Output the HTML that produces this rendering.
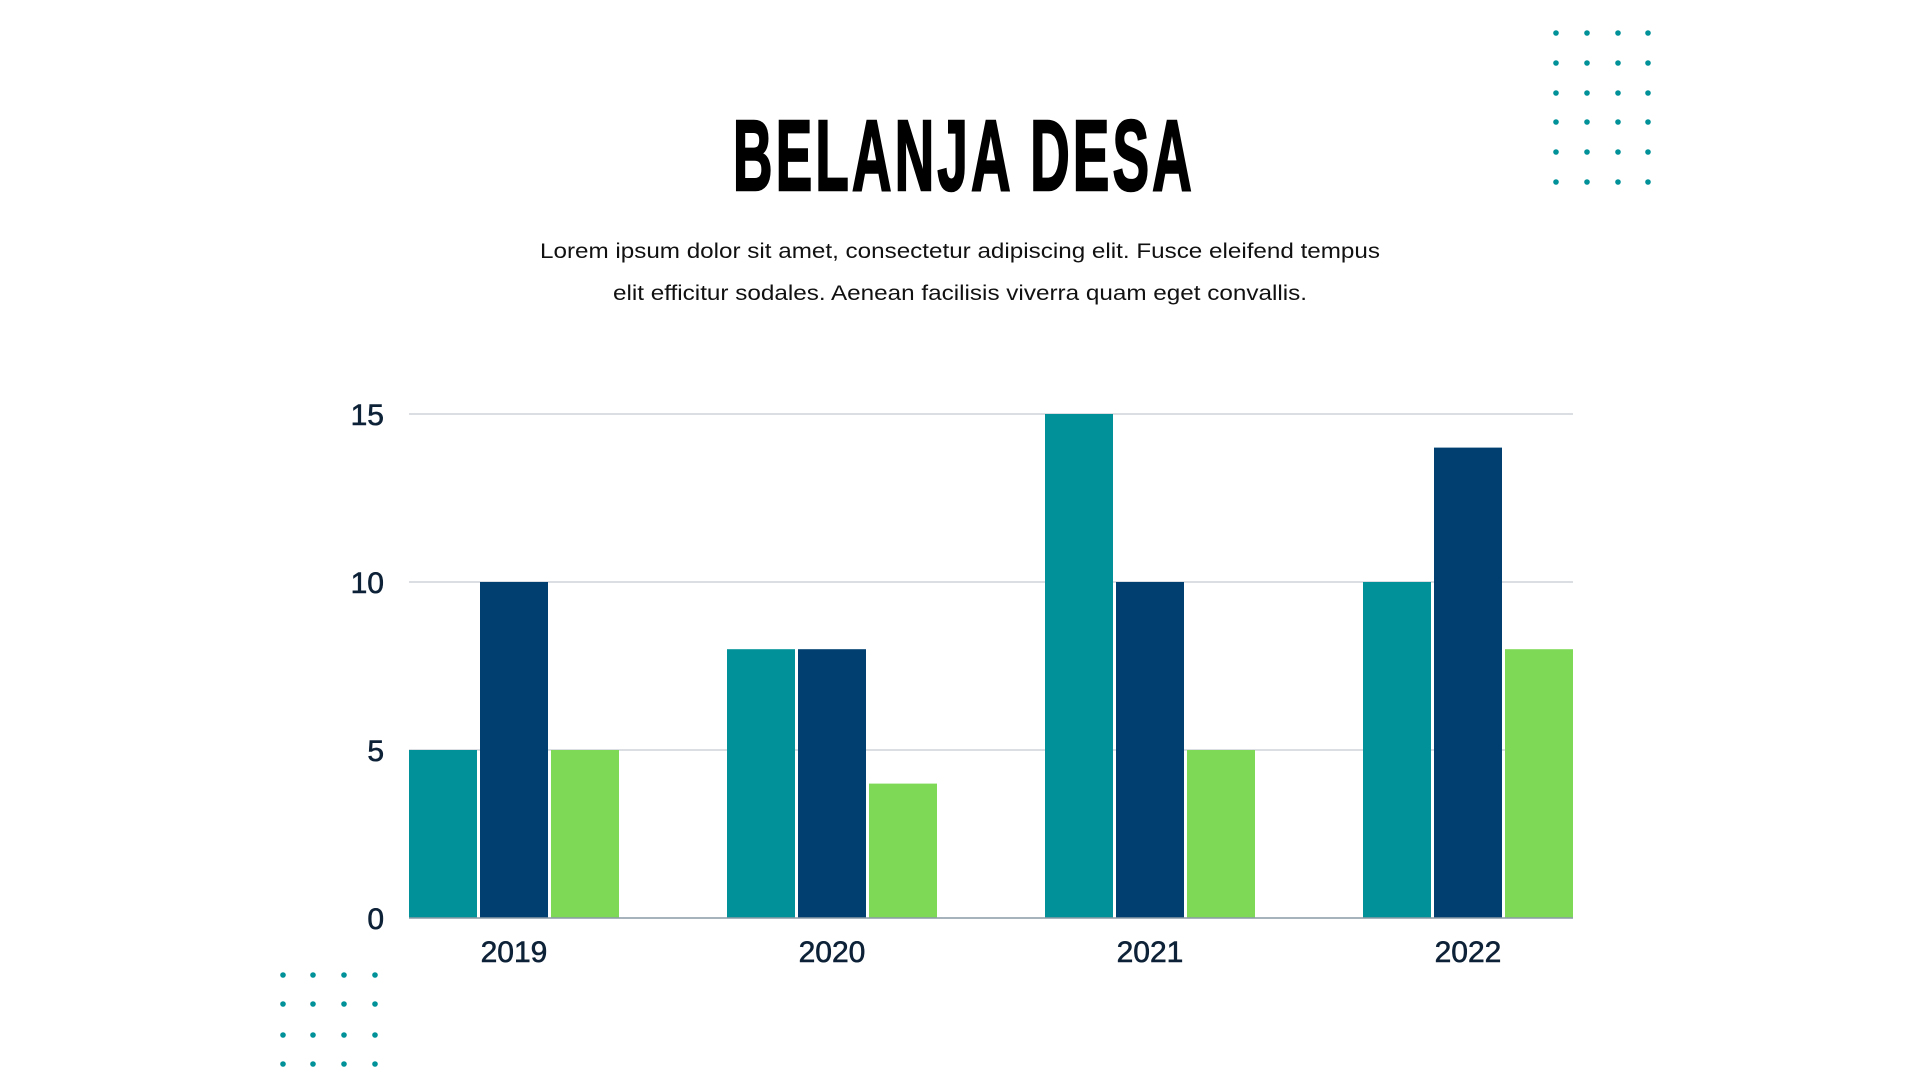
<!DOCTYPE html>
<html><head><meta charset="utf-8"><style>
html,body{margin:0;padding:0;background:#fff;width:1920px;height:1080px;overflow:hidden}
svg text{font-family:"Liberation Sans",sans-serif}
</style></head><body>
<svg id="chart" width="1920" height="1080" viewBox="0 0 1920 1080" xmlns="http://www.w3.org/2000/svg">
<text x="964" y="190" text-anchor="middle" font-size="100" font-weight="bold" fill="#000" stroke="#000" stroke-width="2.5" style="font-family:'Liberation Sans Narrow','Liberation Sans',sans-serif" letter-spacing="6" textLength="462" lengthAdjust="spacingAndGlyphs">BELANJA DESA</text>
<text x="960" y="258" text-anchor="middle" font-size="21" fill="#111" textLength="840" lengthAdjust="spacingAndGlyphs">Lorem ipsum dolor sit amet, consectetur adipiscing elit. Fusce eleifend tempus</text>
<text x="960" y="300" text-anchor="middle" font-size="21" fill="#111" textLength="694" lengthAdjust="spacingAndGlyphs">elit efficitur sodales. Aenean facilisis viverra quam eget convallis.</text>
<g id="dots"></g>
<g id="grid"></g>
<g id="bars"></g>
<g id="axes"></g>
</svg>
<script>
const categories = ["2019","2020","2021","2022"];
const series1 = [5, 8, 15, 10];
const series2 = [10, 8, 10, 14];
const series3 = [5, 4, 5, 8];
const yTicks = [0, 5, 10, 15];

const NS = "http://www.w3.org/2000/svg";
const left = 409, band = 318, barW = 68, barStep = 71;
const y0 = 918, yTop = 414, yMax = 15;
const plotRight = left + band * (categories.length - 1) + barStep * 2 + barW;
function yScale(v){ return y0 - (v / yMax) * (y0 - yTop); }
function xScale(i, s){ return left + i * band + s * barStep; }
function mk(tag, attrs, parent){ const e = document.createElementNS(NS, tag); for (const k in attrs) e.setAttribute(k, attrs[k]); parent.appendChild(e); return e; }

const grid = document.getElementById('grid');
const axes = document.getElementById('axes');
yTicks.forEach(t => {
  if (t > 0) {
    const l = mk('line', {x1: left, x2: plotRight, y1: yScale(t), y2: yScale(t), stroke: '#cfd3d8', 'stroke-width': 1.5}, grid);
    
    
  }
  const tx = mk('text', {x: 384, y: yScale(t) + 11, 'text-anchor': 'end', 'font-size': 30, fill: '#0d2137', stroke: '#0d2137', 'stroke-width': 0.6}, axes);
  tx.textContent = t;
  
  
});
const base = mk('line', {x1: left, x2: plotRight, y1: y0, y2: y0, stroke: '#8a9aa5', 'stroke-width': 1.5}, axes);



const bars = document.getElementById('bars');
const seriesList = [series1, series2, series3];
const colors = ['#009298', '#003f70', '#7ed957'];
categories.forEach((c, i) => {
  seriesList.forEach((s, j) => {
    const r = mk('rect', {x: xScale(i, j), y: yScale(s[i]), width: barW, height: y0 - yScale(s[i]), fill: colors[j]}, bars);
    
    
  });
  const lab = mk('text', {x: xScale(i, 1) + barW / 2, y: 962, 'text-anchor': 'middle', 'font-size': 30, fill: '#0d2137', stroke: '#0d2137', 'stroke-width': 0.6}, axes);
  lab.textContent = c;
  
  
});

const dots = document.getElementById('dots');
function dotGrid(xs, ys){
  ys.forEach(y => xs.forEach(x => {
    const d = mk('circle', {cx: x, cy: y, r: 2.8, fill: '#009298'}, dots);
    
    
  }));
}
dotGrid([1556, 1587, 1618, 1648], [33, 63, 93, 122, 152, 182]);
dotGrid([283, 313, 344, 375], [975, 1004, 1035, 1064]);
</script>
</body></html>
